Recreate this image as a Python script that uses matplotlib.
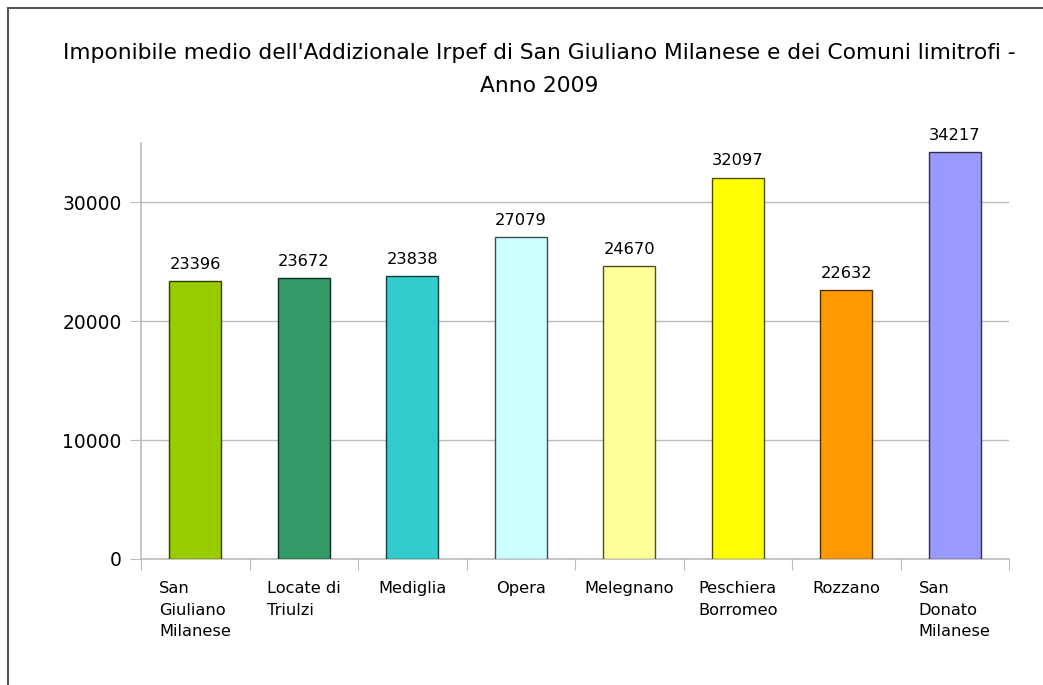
import numpy as np
import matplotlib.pyplot as plt
from matplotlib.lines import Line2D

comuni = ['San\nGiuliano\nMilanese', 'Locate di\nTriulzi', 'Mediglia', 'Opera',
          'Melegnano', 'Peschiera\nBorromeo', 'Rozzano', 'San\nDonato\nMilanese']
imponibile = [23396, 23672, 23838, 27079, 24670, 32097, 22632, 34217]
colori = ['#99CC00', '#339966', '#33CCCC', '#CCFFFF', '#FFFF99', '#FFFF00', '#FF9900', '#9999FF']
bordi = ['#2e3d00', '#0f2e1f', '#0f3d3d', '#3d4d4d', '#4d4d2e', '#4d4d00', '#4d2e00', '#2e2e4d']
yticks = [0, 10000, 20000, 30000]

plt.rcParams['font.family'] = 'DejaVu Sans'
W, H = 1043, 685
fig = plt.figure(figsize=(W / 100, H / 100), dpi=100)
ax = fig.add_axes([141 / W, 1 - 559 / H, (1009 - 141) / W, (559 - 143) / H])

x = np.arange(len(comuni))
bars = ax.bar(x, imponibile, width=0.48, color=colori, edgecolor=bordi, linewidth=1, zorder=3)
for b, v in zip(bars, imponibile):
    ax.annotate(str(v), (b.get_x() + b.get_width() / 2, v), xytext=(0, 6.5),
                textcoords='offset points', ha='center', va='bottom', fontsize=11.7)

ax.set_xlim(-0.5, len(comuni) - 0.5)
ax.set_ylim(0, 35000)
ax.set_yticks(yticks)
ax.set_yticklabels([str(t) for t in yticks], fontsize=13.4)
ax.tick_params(axis='y', length=8, color='#bbbbbb', pad=6)
ax.grid(axis='y', color='#bbbbbb', linewidth=1, zorder=0)

# category separators on x axis, labels in between
ax.set_xticks(np.arange(len(comuni) + 1) - 0.5)
ax.set_xticklabels([])
ax.tick_params(axis='x', length=8, color='#bbbbbb')
for i, nome in enumerate(comuni):
    ax.text(i, -1850, nome, ha='center', va='top', multialignment='left',
            fontsize=11.7, linespacing=1.55)

for s in ['top', 'right']:
    ax.spines[s].set_visible(False)
for s in ['left', 'bottom']:
    ax.spines[s].set_color('#bbbbbb')
    ax.spines[s].set_linewidth(1.2)

fig.text(539.5 / W, 1 - 53 / H,
         "Imponibile medio dell'Addizionale Irpef di San Giuliano Milanese e dei Comuni limitrofi -",
         ha='center', va='center', fontsize=15.7)
fig.text(539.5 / W, 1 - 86 / H, "Anno 2009", ha='center', va='center', fontsize=15.7)

# outer frame (left and top edges)
fig.add_artist(Line2D([7.5 / W, 7.5 / W], [0, 1 - 8 / H], color='#555555', linewidth=1.5))
fig.add_artist(Line2D([7.5 / W, 1], [1 - 8 / H, 1 - 8 / H], color='#555555', linewidth=1.5))

fig.savefig('out.png', dpi=100)
